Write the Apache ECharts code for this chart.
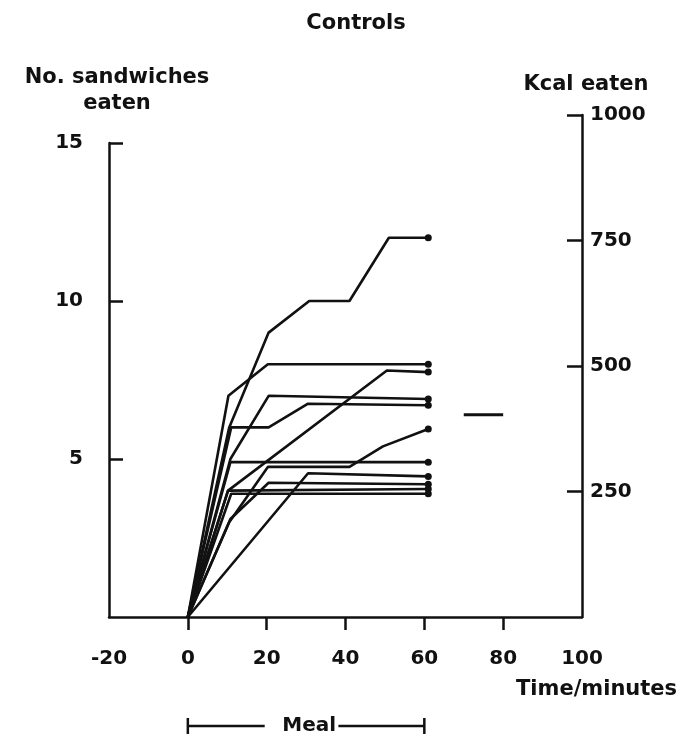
<!DOCTYPE html>
<html><head><meta charset="utf-8">
<script src="https://cdn.jsdelivr.net/npm/echarts@6/dist/echarts.min.js"></script>
<style>html,body{margin:0;padding:0;background:#fff}#c{width:684px;height:741px}</style>
</head><body><div id="c"></div>
<script>
// ---- data ----
const chartTitle = 'Controls';
const xName = 'Time/minutes';
const leftName = 'No. sandwiches\neaten';
const rightName = 'Kcal eaten';
const xTickLabels = [-20, 0, 20, 40, 60, 80, 100];
const xTickMarks = [0, 20, 40, 60, 80];
const leftTicks = [5, 10, 15];
const rightTicks = [250, 500, 750, 1000];

// each subject: [minutes, sandwiches eaten]
const subjectA = [[0,0],[10.5,6],[20.5,9],[30.8,10],[41,10],[51,12],[61,12]];
const subjectB = [[0,0],[10.3,7],[20.3,8],[61,8]];
const subjectC = [[0,0],[10.2,4],[50.5,7.8],[61,7.75]];
const subjectD = [[0,0],[10.8,5],[20.5,7],[61,6.9]];
const subjectE = [[0,0],[11,6],[20.5,6],[30.5,6.75],[61,6.7]];
const subjectF = [[0,0],[10.5,3],[20.3,4.75],[41,4.75],[49.5,5.4],[61,5.95]];
const subjectG = [[0,0],[10.8,4.9],[61,4.9]];
const subjectH = [[0,0],[30.5,4.55],[61,4.45]];
const subjectI = [[0,0],[10.8,3.1],[20.5,4.25],[61,4.2]];
const subjectJ = [[0,0],[10.2,4],[61,4.05]];
const subjectK = [[0,0],[11,3.9],[61,3.9]];
const subjects = [subjectA, subjectB, subjectC, subjectD, subjectE, subjectF, subjectG, subjectH, subjectI, subjectJ, subjectK];

const meanLine = [[70,6.4],[80,6.4]];   // mean marker after the meal
const mealStart = 0, mealEnd = 60, mealLabel = 'Meal';
const mealLeftSeg = [[mealStart,0.5],[19.5,0.5]];
const mealRightSeg = [[38.2,0.5],[mealEnd,0.5]];
const mealLabelPos = [30.8,0.5];

// ---- chart ----
const FONT = '"DejaVu Sans", sans-serif';
const INK = '#111';
const txt = {fontFamily: FONT, fontWeight: 'bold', fontSize: 20, color: INK};
const nameTxt = {...txt, fontSize: 21};

const series = subjects.map(s => ({
  type: 'line', xAxisIndex: 0, yAxisIndex: 0, symbol: 'none', animation: false,
  lineStyle: {color: INK, width: 2.6}, itemStyle: {color: INK},
  data: s.map((p, i) => i === s.length - 1 ? {value: p, symbol: 'circle', symbolSize: 7} : {value: p})
}));
series.push({type: 'line', xAxisIndex: 0, yAxisIndex: 0, symbol: 'none', animation: false,
  lineStyle: {color: INK, width: 3}, data: meanLine});
[mealLeftSeg, mealRightSeg,
 [[mealStart,0.1],[mealStart,0.9]], [[mealEnd,0.1],[mealEnd,0.9]]].forEach(seg => series.push({
  type: 'line', xAxisIndex: 2, yAxisIndex: 2, symbol: 'none', animation: false,
  lineStyle: {color: INK, width: 2.5}, data: seg}));
series.push({type: 'scatter', xAxisIndex: 2, yAxisIndex: 2, symbolSize: 0, animation: false,
  itemStyle: {color: INK}, clip: false,
  label: {show: true, position: 'inside', formatter: mealLabel, opacity: 1, ...txt},
  emphasis: {disabled: true},
  data: [mealLabelPos]});

const axisLineStyle = {show: true, onZero: false, lineStyle: {color: INK, width: 2.5}};
const plain = v => String(v);
const option = {
  backgroundColor: '#fff',
  animation: false,
  title: {text: chartTitle, left: 351, top: 8, textAlign: 'center', textStyle: {...nameTxt}},
  grid: [
    {left: 109, right: 102, top: 143, bottom: 124},
    {left: 109, right: 102, top: 115, bottom: 124},
    {left: 109, right: 102, top: 716, height: 20}
  ],
  xAxis: [
    {gridIndex: 0, type: 'value', min: -20, max: 100, interval: 20, position: 'bottom',
     axisLine: axisLineStyle,
     axisTick: {show: true, length: 13, customValues: xTickMarks, lineStyle: {color: INK, width: 2.5}},
     axisLabel: {customValues: xTickLabels, margin: 32, formatter: plain, ...txt},
     splitLine: {show: false},
     name: xName, nameLocation: 'end', nameGap: -66,
     nameTextStyle: {...nameTxt, align: 'left', verticalAlign: 'top', padding: [62, 0, 0, 0]}},
    {gridIndex: 1, type: 'value', min: -20, max: 100, show: false},
    {gridIndex: 2, type: 'value', min: -20, max: 100, show: false}
  ],
  yAxis: [
    {gridIndex: 0, type: 'value', min: 0, max: 15, interval: 5, position: 'left',
     axisLine: axisLineStyle,
     axisTick: {show: true, inside: true, length: 14, customValues: leftTicks, lineStyle: {color: INK, width: 2.5}},
     axisLabel: {customValues: leftTicks, margin: 26, formatter: plain, ...txt},
     splitLine: {show: false},
     name: leftName, nameLocation: 'end', nameGap: 26,
     nameTextStyle: {...nameTxt, align: 'center', lineHeight: 26, padding: [0, 0, 0, 16]}},
    {gridIndex: 1, type: 'value', min: 0, max: 1000, interval: 250, position: 'right',
     axisLine: axisLineStyle,
     axisTick: {show: true, inside: true, length: 15, customValues: rightTicks, lineStyle: {color: INK, width: 2.5}},
     axisLabel: {customValues: rightTicks, margin: 8, formatter: plain, ...txt},
     splitLine: {show: false},
     name: rightName, nameLocation: 'end', nameGap: 20,
     nameTextStyle: {...nameTxt, align: 'center', padding: [0, 0, 0, 8]}},
    {gridIndex: 2, type: 'value', min: 0, max: 1, show: false}
  ],
  series: series
};
const chart = echarts.init(document.getElementById('c'), null, {renderer: 'canvas'});
chart.setOption(option);
</script></body></html>
